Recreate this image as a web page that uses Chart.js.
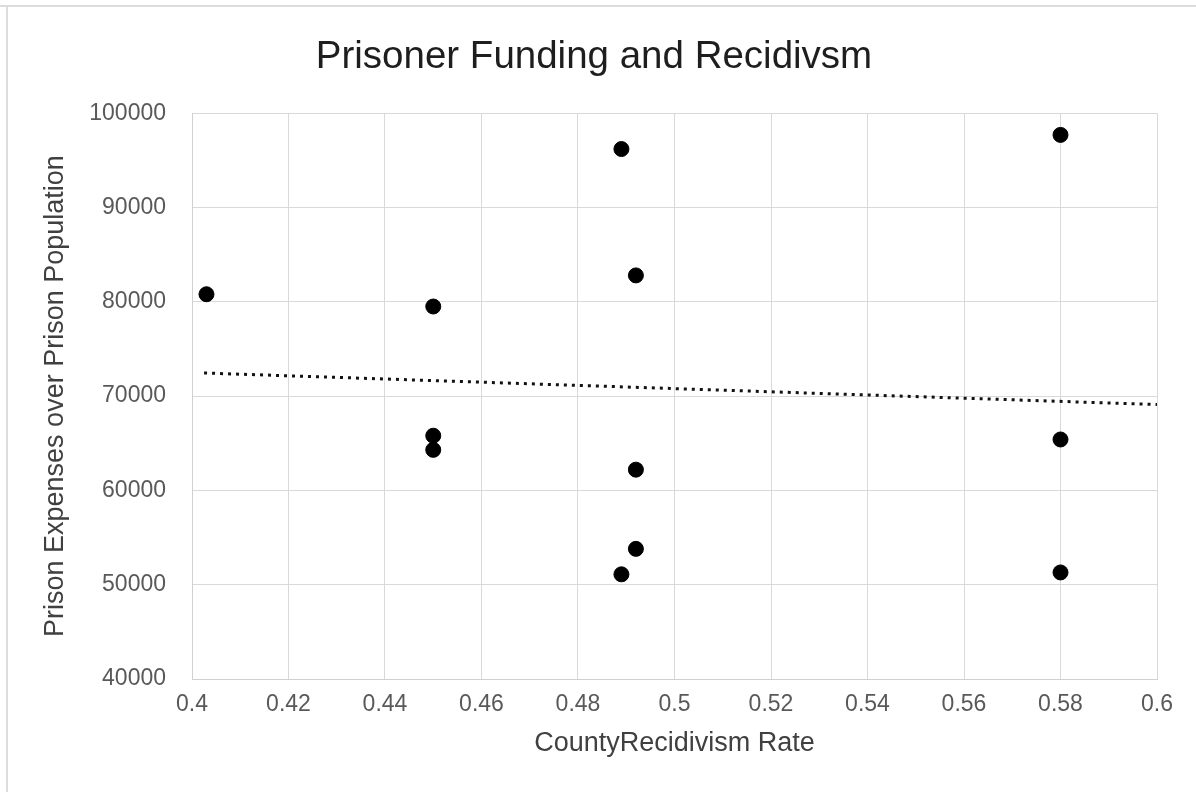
<!DOCTYPE html>
<html lang="en">
  <head>
    <meta charset="UTF-8" />
    <title>Prisoner Funding and Recidivsm</title>
    <script src="https://cdn.jsdelivr.net/npm/chart.js@4.4.0/dist/chart.umd.min.js"></script>
    <style>
      html, body { margin: 0; padding: 0; background: #fff; }
      #chart { display: block; }
    </style>
  </head>
  <body>
    <canvas id="chart" width="1196" height="792"></canvas>
    <script>
      // county recidivism rate (x) vs prison expenses per prisoner (y)
      var recidivism = [0.403, 0.45, 0.45, 0.45, 0.489, 0.489, 0.492, 0.492, 0.492, 0.58, 0.58, 0.58];
      var expenses = [80800, 79500, 65800, 64300, 96200, 51100, 82800, 62200, 53800, 97700, 65400, 51300];

      // linear trendline end points
      var trendX = [0.4025, 0.6];
      var trendY = [72450, 69100];

      var fontFamily = '"Liberation Sans", Arial, sans-serif';

      var frame = {
        id: 'frame',
        beforeDraw(chart) {
          const ctx = chart.ctx;
          ctx.save();
          ctx.fillStyle = '#fff';
          ctx.fillRect(0, 0, chart.width, chart.height);
          ctx.strokeStyle = '#dcdcdc';
          ctx.lineWidth = 2;
          ctx.beginPath();
          ctx.moveTo(0, 6);
          ctx.lineTo(chart.width, 6);
          ctx.moveTo(7, 6);
          ctx.lineTo(7, chart.height);
          ctx.stroke();
          ctx.restore();
        }
      };

      var chart = new Chart(document.getElementById('chart'), {
        type: 'scatter',
        data: {
          datasets: [
            {
              label: 'Counties',
              data: recidivism.map((x, i) => ({ x: x, y: expenses[i] })),
              backgroundColor: '#000',
              borderColor: '#000',
              pointRadius: 7.5,
              pointHoverRadius: 7.5,
              order: 1
            },
            {
              label: 'Linear trend',
              type: 'line',
              data: trendX.map((x, i) => ({ x: x, y: trendY[i] })),
              borderColor: '#111',
              borderWidth: 3,
              borderDash: [3, 5],
              pointRadius: 0,
              fill: false,
              order: 2
            }
          ]
        },
        options: {
          responsive: false,
          animation: false,
          layout: { padding: { left: 0, right: 8, top: 0, bottom: 0 } },
          plugins: {
            legend: { display: false },
            tooltip: { enabled: false },
            title: {
              display: true,
              text: 'Prisoner Funding and Recidivsm',
              color: '#1e1e1e',
              font: { family: fontFamily, size: 38.5, weight: 'normal' },
              padding: { top: 34, bottom: 33 }
            }
          },
          scales: {
            x: {
              type: 'linear',
              min: 0.4,
              max: 0.6,
              ticks: {
                stepSize: 0.02,
                padding: 12,
                color: '#595959',
                font: { family: fontFamily, size: 23 },
                callback: (v) => String(+v.toFixed(2))
              },
              grid: { color: '#d9d9d9', lineWidth: 1, drawTicks: false },
              border: { color: '#d0d0d0' },
              title: {
                display: true,
                text: 'CountyRecidivism Rate',
                color: '#404040',
                font: { family: fontFamily, size: 27 },
                padding: { top: 0, bottom: 32 }
              },
              afterFit: (scale) => { scale.height = 113; }
            },
            y: {
              type: 'linear',
              min: 40000,
              max: 100000,
              ticks: {
                stepSize: 10000,
                padding: 26,
                color: '#595959',
                font: { family: fontFamily, size: 23 },
                callback: (v) => String(v)
              },
              grid: { color: '#d9d9d9', lineWidth: 1, drawTicks: false },
              border: { color: '#d0d0d0' },
              title: {
                display: true,
                text: 'Prison Expenses over Prison Population',
                color: '#404040',
                font: { family: fontFamily, size: 27 },
                padding: { top: 39, bottom: 0 }
              },
              afterFit: (scale) => { scale.width = 192; }
            },
            // empty spacer on the right so the plot ends where the reference does
            spacer: {
              type: 'linear',
              position: 'right',
              display: true,
              grid: { display: false },
              border: { display: false },
              ticks: { display: false },
              afterFit: (scale) => { scale.width = 31; }
            }
          }
        },
        plugins: [frame]
      });
    </script>
  </body>
</html>
